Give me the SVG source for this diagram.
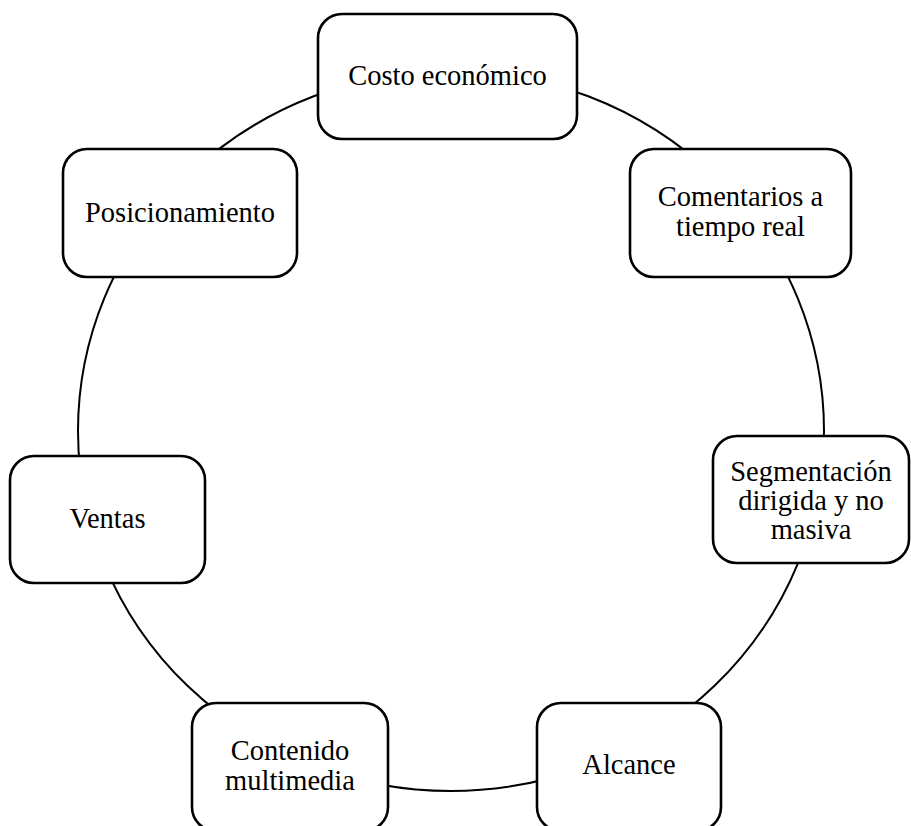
<svg xmlns="http://www.w3.org/2000/svg" width="911" height="826" viewBox="0 0 911 826">
<style>
.box{fill:#fff;stroke:#000;stroke-width:2.6}
.lbl{font-family:"Liberation Serif","Times New Roman",serif;font-size:28.5px;fill:#000;text-anchor:middle}
</style>
<rect width="911" height="826" fill="#fff"/>
<g id="connectors">
<ellipse cx="451" cy="431" rx="373" ry="360" fill="none" stroke="#000" stroke-width="2"/>
</g>
<g id="n1"><rect class="box" x="318" y="14" width="259" height="125" rx="24"/><text class="lbl" x="447.5" y="85">Costo económico</text></g>
<g id="n2"><rect class="box" x="630" y="149" width="221" height="128" rx="24"/><text class="lbl" x="740.5" y="206">Comentarios a</text><text class="lbl" x="740.5" y="236">tiempo real</text></g>
<g id="n3"><rect class="box" x="713" y="436" width="196" height="127" rx="24"/><text class="lbl" x="811" y="481">Segmentación</text><text class="lbl" x="811" y="510">dirigida y no</text><text class="lbl" x="811" y="539">masiva</text></g>
<g id="n4"><rect class="box" x="537" y="703" width="184" height="128" rx="24"/><text class="lbl" x="629" y="774">Alcance</text></g>
<g id="n5"><rect class="box" x="192" y="703" width="196" height="128" rx="24"/><text class="lbl" x="290" y="760">Contenido</text><text class="lbl" x="290" y="790">multimedia</text></g>
<g id="n6"><rect class="box" x="10" y="456" width="195" height="127" rx="24"/><text class="lbl" x="107.5" y="528">Ventas</text></g>
<g id="n7"><rect class="box" x="63" y="149" width="234" height="128" rx="24"/><text class="lbl" x="180" y="222">Posicionamiento</text></g>
</svg>
